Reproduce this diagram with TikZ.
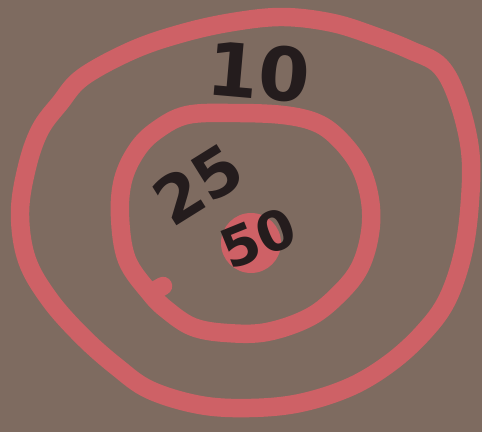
\documentclass[tikz,border=0pt]{standalone}
\usepackage{fontspec}
\setmainfont{DejaVu Sans}
\usepackage{xcolor}
\usepackage{tikz}
\definecolor{board}{RGB}{126,107,96}
\definecolor{chalk}{RGB}{206,97,102}
\definecolor{ink}{RGB}{36,28,29}
\tikzset{
  ring/.style={draw=chalk, line width=10.5pt, line cap=round, line join=round},
  score/.style={text=ink, inner sep=0pt, font=\bfseries\fontsize{#1}{#1}\selectfont},
  score/.default=36
}

\begin{document}
\begin{tikzpicture}[x=0.02cm, y=-0.02cm]
    \fill[board] (0,0) rectangle (482,432);
    \useasboundingbox (0,0) rectangle (482,432);
    % outer ring (10)
    \draw[ring] plot[smooth cycle, tension=0.6] coordinates {
      (83,77) (133,50) (183,33) (233,22) (283,17) (333,23) (377,37) (410,50)
      (440,66) (458,100) (470,150) (470,200) (463,253) (447,300) (423,333)
      (390,363) (350,387) (300,403) (250,408) (200,405) (150,390) (117,367)
      (83,337) (50,300) (27,260) (20,213) (27,167) (40,130) (60,103)};
    % inner ring (25)
    \draw[ring] plot[smooth cycle, tension=0.6] coordinates {
      (187,115) (233,113) (283,115) (317,123) (340,140) (360,167) (370,200)
      (370,233) (360,267) (340,293) (310,317) (267,332) (227,333) (193,327)
      (167,310) (150,293) (127,260) (120,217) (123,180) (137,150) (157,130)};
    \draw[ring] (152,292) -- (163,286);
    % bull (50)
    \fill[chalk] (251,243) circle (30);
    \node[score=42, rotate=-5] (ten) at (259,72) {10};
    \node[score=37, rotate=32] (twentyfive) at (198,184) {25};
    \node[score=31, rotate=22] (fifty) at (258,238) {50};
  \end{tikzpicture}
\end{document}
